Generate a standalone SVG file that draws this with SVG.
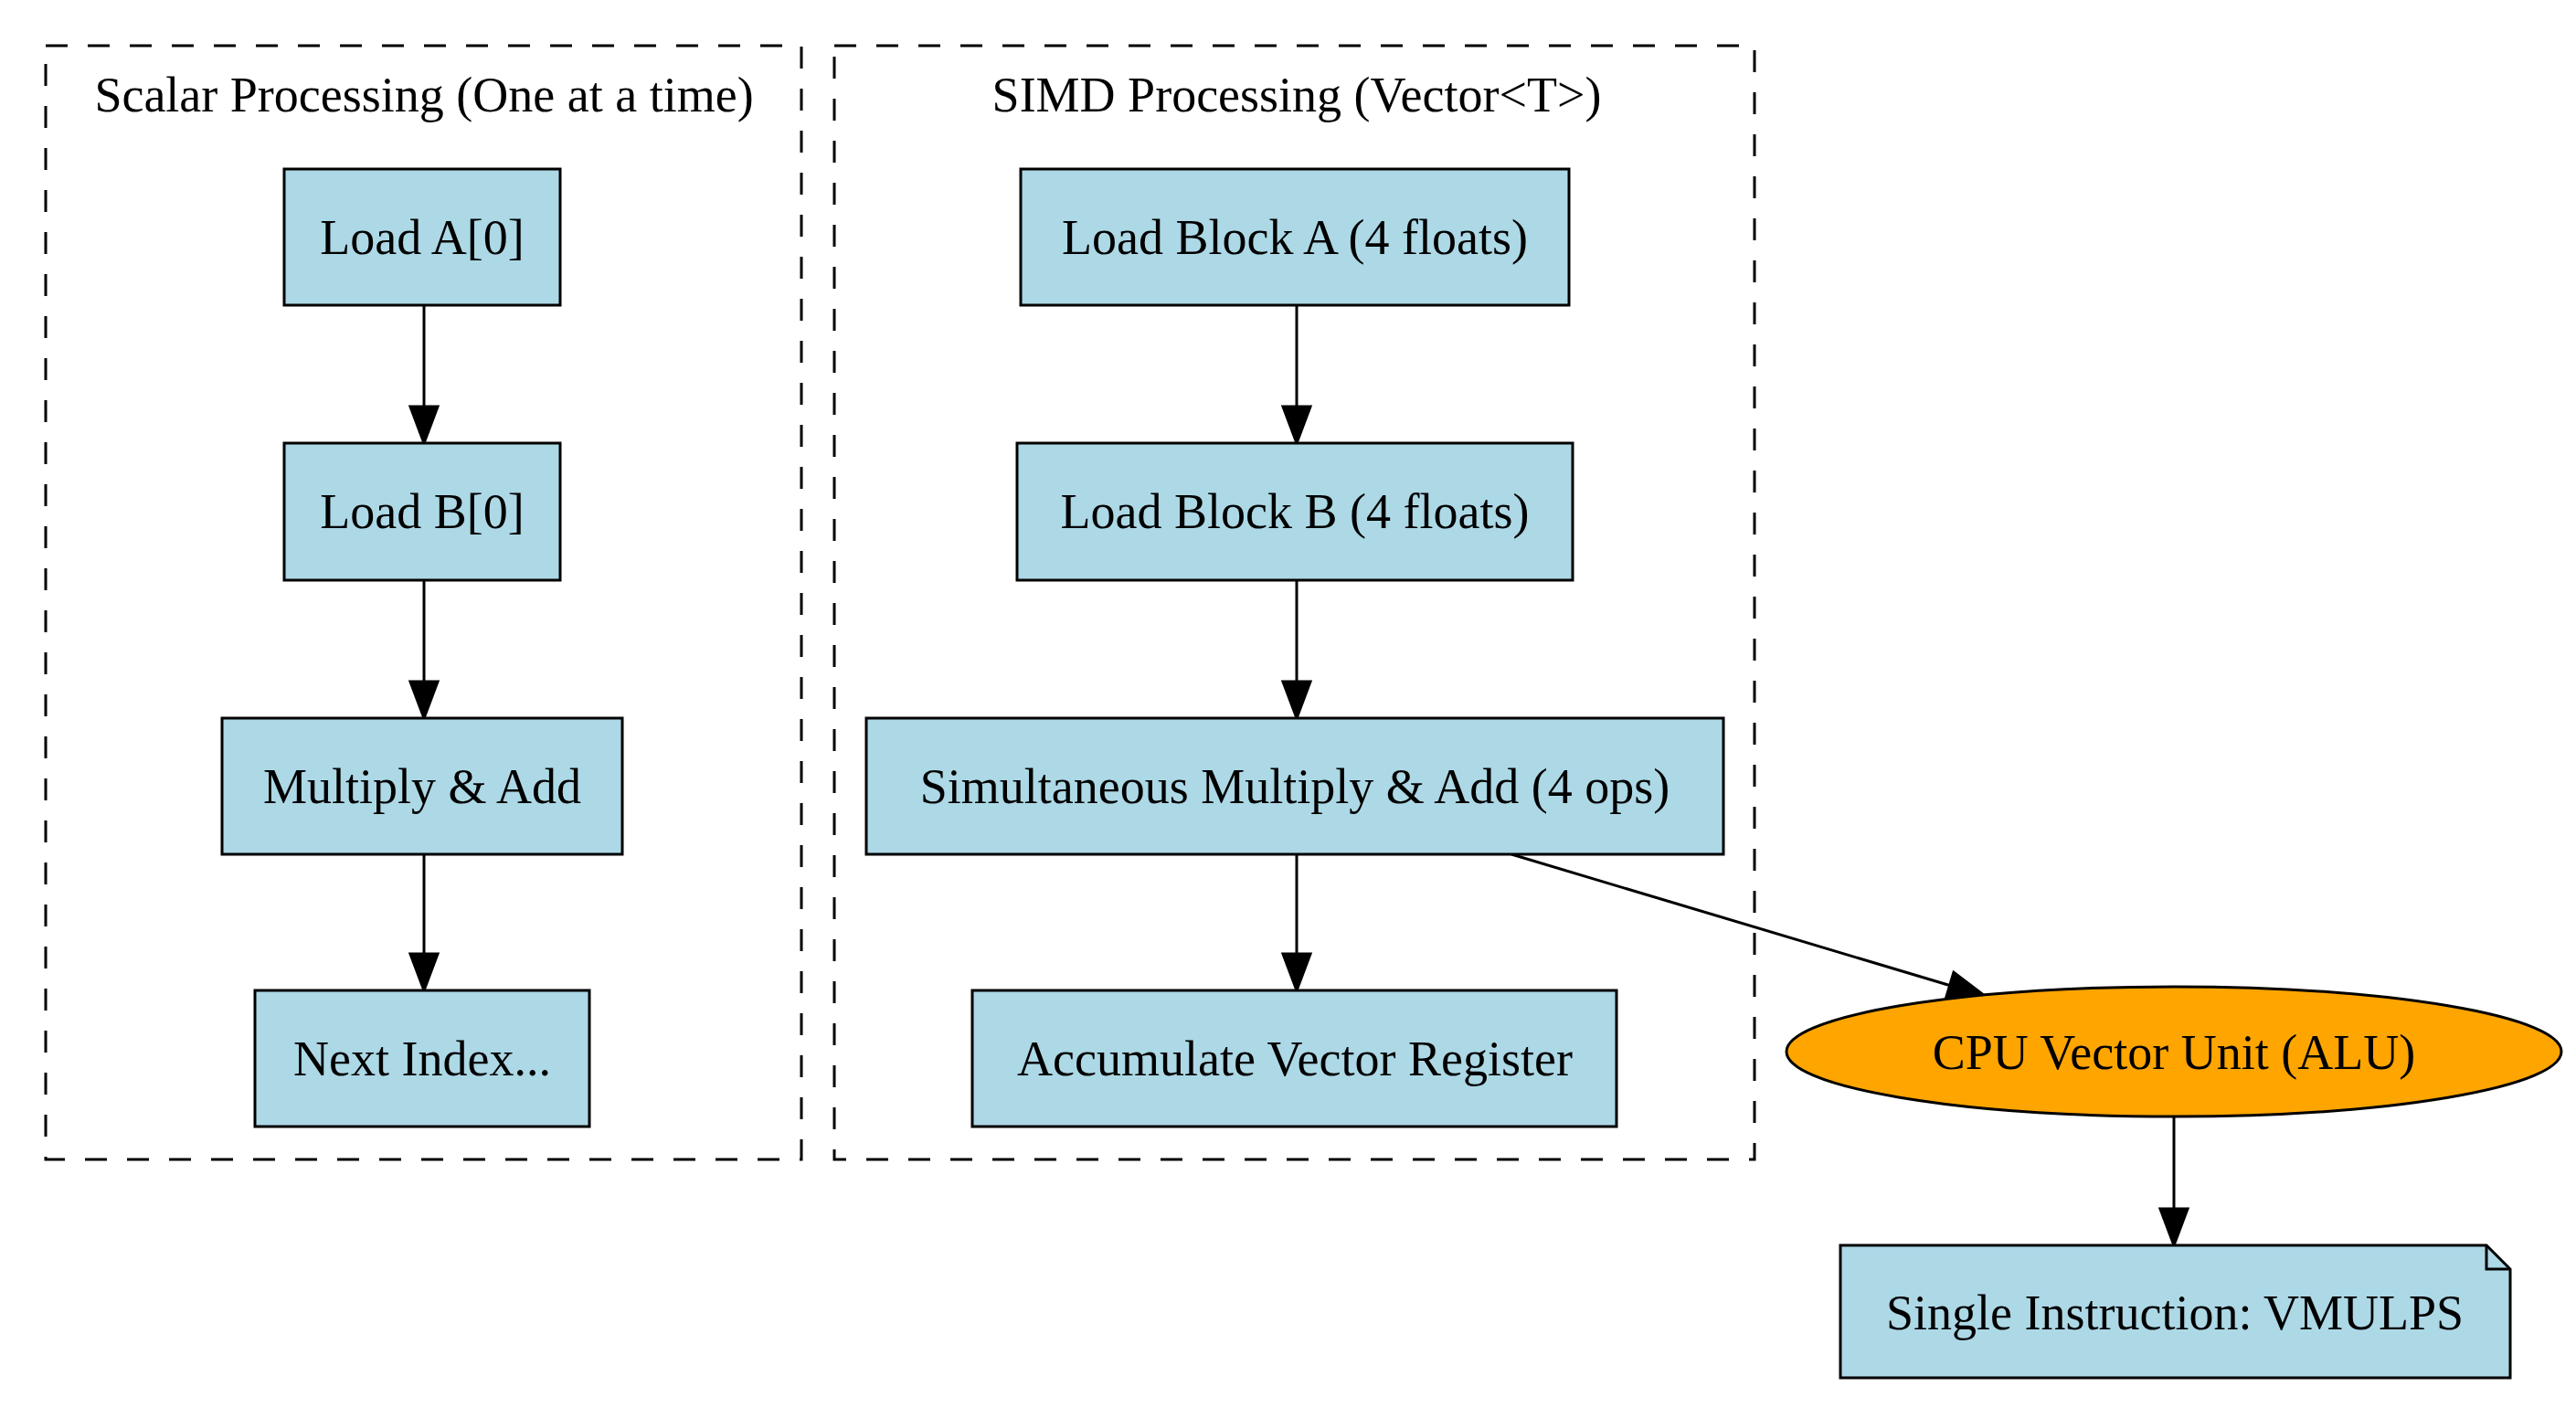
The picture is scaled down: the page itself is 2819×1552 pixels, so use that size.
<svg xmlns="http://www.w3.org/2000/svg" width="2819" height="1552" viewBox="0 0 2819 1552">
<style>
text{font-family:"Liberation Serif","Times New Roman",serif;font-size:54px;text-anchor:middle;fill:#000}
.cl{fill:none;stroke:#000;stroke-width:3;stroke-dasharray:24 22}
.n{fill:#add8e6;stroke:#000;stroke-width:3}
.e{fill:none;stroke:#000;stroke-width:3;marker-end:url(#a)}
</style>
<defs>
<marker id="a" markerUnits="userSpaceOnUse" markerWidth="44" markerHeight="34" viewBox="0 0 44 34" refX="42" refY="17" orient="auto">
<path d="M2,2 L42,17 L2,32 Z" fill="#000" stroke="#000" stroke-width="3"/>
</marker>
</defs>
<rect width="2819" height="1552" fill="#fff"/>
<g id="cluster_scalar">
<rect class="cl" x="50" y="50" width="827" height="1219"/>
<text x="464" y="122">Scalar Processing (One at a time)</text>
</g>
<g id="cluster_simd">
<rect class="cl" x="913" y="50" width="1007" height="1219"/>
<text x="1419" y="122">SIMD Processing (Vector&lt;T&gt;)</text>
</g>
<g id="edges">
<path class="e" d="M464,334 V485"/>
<path class="e" d="M464,635 V786"/>
<path class="e" d="M464,935 V1084"/>
<path class="e" d="M1419,334 V485"/>
<path class="e" d="M1419,635 V786"/>
<path class="e" d="M1419,935 V1084"/>
<path class="e" d="M1654,935 L2172,1090"/>
<path class="e" d="M2379,1222 V1363"/>
</g>
<g id="loadA"><rect class="n" x="311" y="185" width="302" height="149"/><text x="462" y="278">Load A[0]</text></g>
<g id="loadB"><rect class="n" x="311" y="485" width="302" height="150"/><text x="462" y="578">Load B[0]</text></g>
<g id="mul"><rect class="n" x="243" y="786" width="438" height="149"/><text x="462" y="879">Multiply &amp; Add</text></g>
<g id="next"><rect class="n" x="279" y="1084" width="366" height="149"/><text x="462" y="1177">Next Index...</text></g>
<g id="blockA"><rect class="n" x="1117" y="185" width="600" height="149"/><text x="1417" y="278">Load Block A (4 floats)</text></g>
<g id="blockB"><rect class="n" x="1113" y="485" width="608" height="150"/><text x="1417" y="578">Load Block B (4 floats)</text></g>
<g id="simul"><rect class="n" x="948" y="786" width="938" height="149"/><text x="1417" y="879">Simultaneous Multiply &amp; Add (4 ops)</text></g>
<g id="accum"><rect class="n" x="1064" y="1084" width="705" height="149"/><text x="1417" y="1177">Accumulate Vector Register</text></g>
<g id="cpu"><ellipse cx="2379" cy="1151" rx="424" ry="71" fill="#ffa500" stroke="#000" stroke-width="3"/><text x="2379" y="1170">CPU Vector Unit (ALU)</text></g>
<g id="note"><path class="n" d="M2014,1363 H2721 L2747,1389 V1508 H2014 Z"/><path d="M2721,1363 V1389 H2747" fill="none" stroke="#000" stroke-width="3"/><text x="2380" y="1455">Single Instruction: VMULPS</text></g>
</svg>
